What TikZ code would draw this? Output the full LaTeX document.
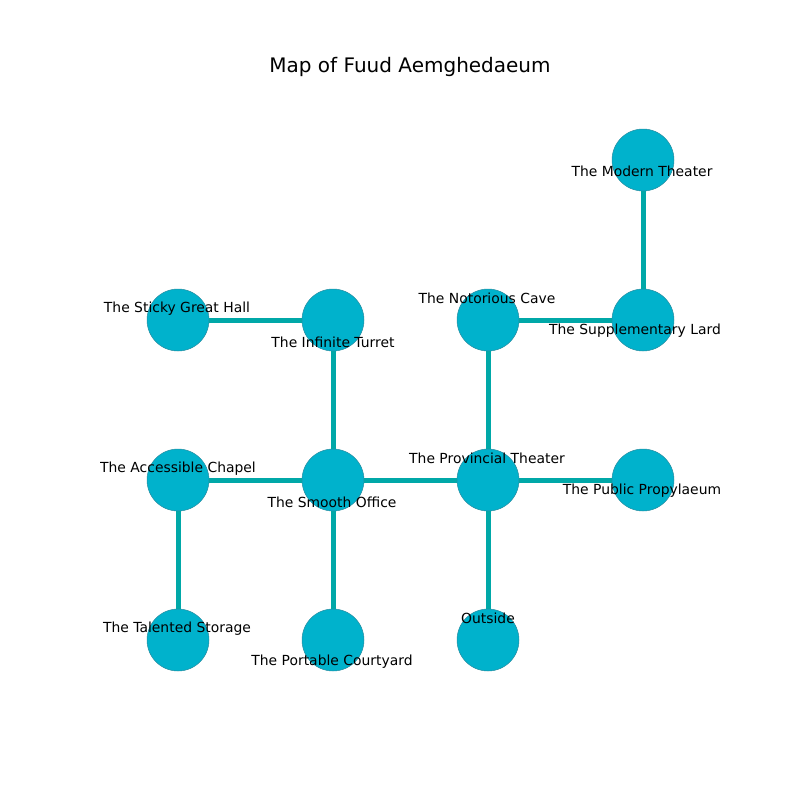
\documentclass[tikz,border=0pt]{standalone}
\usepackage{fontspec}
\setmainfont{DejaVu Sans}
\usetikzlibrary{backgrounds}
\definecolor{nodefill}{RGB}{0,178,204}
\definecolor{nodeline}{RGB}{40,140,160}
\definecolor{edgecol}{RGB}{0,168,168}
\begin{document}
\begin{tikzpicture}[x=1pt,y=-1pt,
  place/.style={circle,fill=nodefill,draw=nodeline,line width=0.5pt,minimum size=62pt,inner sep=0pt},
  link/.style={draw=edgecol,line width=5pt},
  lbl/.style={font=\fontsize{13.9}{16}\selectfont,inner sep=0pt,anchor=center}]
\useasboundingbox (0,0) rectangle (800,800);
\node[font=\fontsize{20}{24}\selectfont] (title) at (410,67) {Map of Fuud Aemghedaeum};
% nodes
\node[place] (mt) at (643,160) {};
\node[place] (sg) at (178,320) {};
\node[place] (it) at (333,320) {};
\node[place] (nc) at (488,320) {};
\node[place] (sl) at (643,320) {};
\node[place] (ac) at (178,480) {};
\node[place] (so) at (333,480) {};
\node[place] (pt) at (488,480) {};
\node[place] (pp) at (643,480) {};
\node[place] (ts) at (178,640) {};
\node[place] (pc) at (333,640) {};
\node[place] (os) at (488,640) {};
% edges behind nodes
\begin{scope}[on background layer]
\path[link] (mt.center) -- (sl.center);
\path[link] (sg.center) -- (it.center);
\path[link] (it.center) -- (so.center);
\path[link] (nc.center) -- (sl.center);
\path[link] (nc.center) -- (pt.center);
\path[link] (ac.center) -- (so.center);
\path[link] (so.center) -- (pt.center);
\path[link] (pt.center) -- (pp.center);
\path[link] (ac.center) -- (ts.center);
\path[link] (so.center) -- (pc.center);
\path[link] (pt.center) -- (os.center);
\end{scope}
% labels
\begin{scope}
\clip (100,96) rectangle (720,712);
\node[lbl] (lmt) at (642,171) {The Modern Theater};
\node[lbl] (lsg) at (177,309) {The Sticky Great Hall};
\node[lbl] (lit) at (333,342) {The Infinite Turret};
\node[lbl] (lnc) at (487,298) {The Notorious Cave};
\node[lbl] (lsl) at (635,331) {The Supplementary Lard};
\node[lbl] (lac) at (178,469) {The Accessible Chapel};
\node[lbl] (lso) at (332,502) {The Smooth Office};
\node[lbl] (lpt) at (487,458) {The Provincial Theater};
\node[lbl] (lpp) at (642,491) {The Public Propylaeum};
\node[lbl] (lts) at (177,629) {The Talented Storage};
\node[lbl] (lpc) at (332,662) {The Portable Courtyard};
\node[lbl] (los) at (488,618) {Outside};
\end{scope}
\end{tikzpicture}
\end{document}
